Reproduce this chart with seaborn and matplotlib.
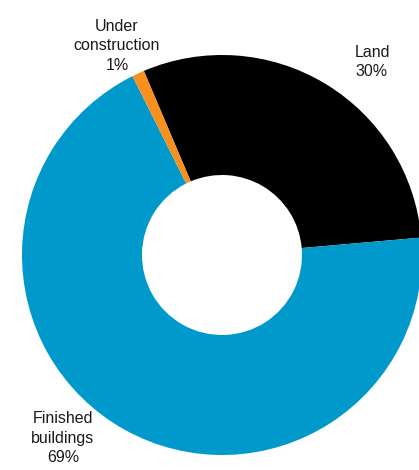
import matplotlib
matplotlib.use('Agg')
import matplotlib.pyplot as plt
import seaborn as sns

# Portfolio breakdown
labels = ['Land', 'Finished\nbuildings', 'Under\nconstruction']
shares = [30, 69, 1]
colors = ['#000000', '#0099CC', '#F7901E']

sns.set_theme(style='white')
plt.rcParams['font.family'] = ['Liberation Sans', 'DejaVu Sans']

fig = plt.figure(figsize=(4.19, 4.70), dpi=100)
ax = fig.add_axes([22 / 419, 15 / 470, 400 / 419, 400 / 470])

ax.pie(shares, colors=colors, startangle=113, counterclock=False,
       radius=1.0, wedgeprops=dict(width=0.6, linewidth=0))

# label positions (data coords around the donut)
label_pos = [(0.75, 0.965), (-0.795, -0.915), (-0.525, 1.045)]
for lab, val, (x, y) in zip(labels, shares, label_pos):
    ax.text(x, y, f'{lab}\n{val}%', ha='center', va='center',
            fontsize=11.5, color='#1a1a1a', linespacing=1.35)

ax.set_xlim(-1, 1)
ax.set_ylim(-1, 1)
ax.set_aspect('equal')
ax.axis('off')

fig.savefig('out.png', dpi=100)
